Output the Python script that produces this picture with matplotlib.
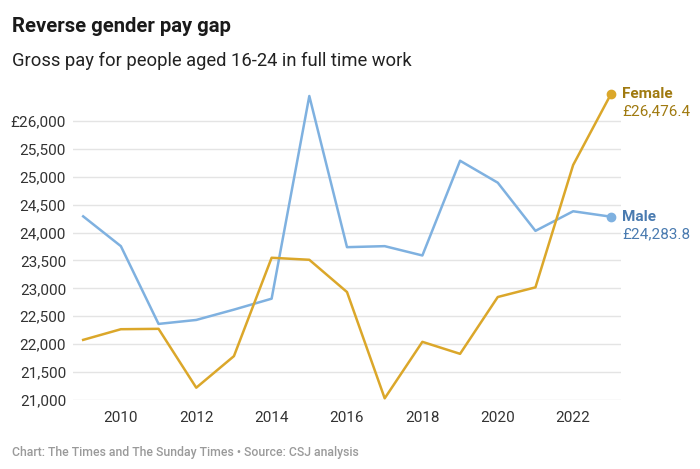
import matplotlib.pyplot as plt
from matplotlib.ticker import FuncFormatter

plt.rcParams['font.family'] = ['Roboto', 'DejaVu Sans']

years = list(range(2009, 2024))
male = [24290, 23756, 22363, 22434, 22619, 22815, 26446, 23738,
        23756, 23589, 25286, 24893, 24030, 24381, 24283.8]
female = [22077, 22268, 22275, 21220, 21786, 23548, 23512, 22934,
          21030, 22042, 21827, 22845, 23018, 25209, 26476.4]

male_col = '#7fb1e0'
female_col = '#dba72a'
male_lab = '#4a7bb0'
female_lab = '#a07a10'

fig = plt.figure(figsize=(7, 4.69), dpi=100)
W, H = 700, 469
ax = fig.add_axes([73 / W, 1 - 400 / H, (621 - 73) / W, (400 - 94.3) / H])

ax.plot(years, male, color=male_col, lw=1.8, clip_on=False, zorder=3)
ax.plot(years, female, color=female_col, lw=1.8, clip_on=False, zorder=3)
ax.plot(years[-1], male[-1], 'o', color=male_col, ms=6, clip_on=False, zorder=4)
ax.plot(years[-1], female[-1], 'o', color=female_col, ms=6, clip_on=False, zorder=4)

ax.set_xlim(2008.73, 2023.27)
ax.set_ylim(21000, 26476.4)
ax.set_yticks(range(21000, 26001, 500))
ax.set_xticks(range(2010, 2023, 2))
ax.yaxis.set_major_formatter(FuncFormatter(
    lambda v, p: f'£{v:,.0f}' if v == 26000 else f'{v:,.0f}'))
ax.grid(axis='y', color='#e4e4e4', lw=1)
ax.set_axisbelow(True)
for s in ax.spines.values():
    s.set_visible(False)
ax.tick_params(length=0, labelsize=11, colors='#333333')
ax.tick_params(axis='y', pad=5)
ax.tick_params(axis='x', pad=8)

# end labels
for name, vals, col in [('Female', female, female_lab), ('Male', male, male_lab)]:
    ax.annotate(name, (years[-1], vals[-1]), xytext=(8, 0), textcoords='offset points',
                color=col, fontsize=11, fontweight='bold', va='center', annotation_clip=False)
    ax.annotate(f'£{vals[-1]:,.1f}', (years[-1], vals[-1]), xytext=(8, -12.5),
                textcoords='offset points', color=col, fontsize=11, va='center',
                annotation_clip=False)

fig.text(12 / W, 1 - 32 / H, 'Reverse gender pay gap', fontsize=14.6, fontweight='bold',
         color='#1a1a1a', va='baseline')
fig.text(12 / W, 1 - 66 / H, 'Gross pay for people aged 16-24 in full time work', fontsize=13.2,
         color='#222222', va='baseline')
fig.text(12 / W, 1 - 456 / H, 'Chart: The Times and The Sunday Times • Source: CSJ analysis',
         fontsize=8.8, color='#9a9a9a', fontweight='medium', va='baseline')

fig.savefig('out.png', dpi=100)
